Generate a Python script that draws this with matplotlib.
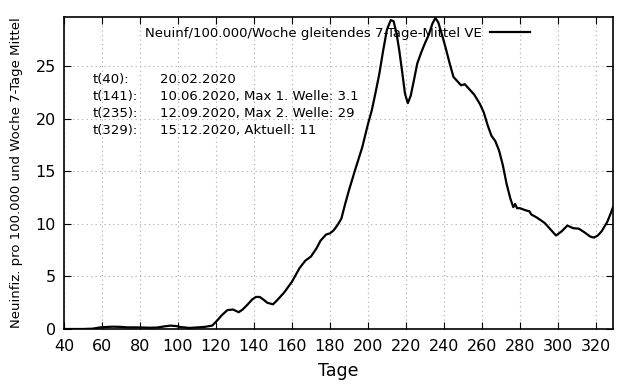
import matplotlib
matplotlib.use('Agg')
import matplotlib.pyplot as plt

# Tag / 7-Tage-Mittel
tage = [40, 50, 55, 59, 63, 66, 70, 73, 80, 85, 89, 93, 96, 99, 101, 106, 110, 114, 118,
        120.6, 123, 126, 129, 132, 134, 136.5, 139, 141, 143, 145, 147, 150, 152, 156, 160,
        164, 167, 170, 173, 175, 178, 180, 182, 184, 186, 188, 190, 193, 197, 200, 202,
        204, 206, 208, 210, 212, 213.5, 215, 216.5, 218, 219.5, 221, 222.5, 224, 226, 228,
        230, 232, 234, 235.5, 237, 239, 241, 243, 245, 247, 249, 251, 253, 256, 259, 261,
        263, 265, 267, 269, 271, 273, 275, 276.5, 277.5, 278.5, 280, 283, 285, 286, 289,
        293, 296, 299, 302, 305, 308, 311, 314, 317, 319, 321, 323, 326, 328, 329]
werte = [0.0, 0.0, 0.03, 0.15, 0.2, 0.22, 0.2, 0.16, 0.15, 0.12, 0.14, 0.25, 0.32, 0.28,
         0.2, 0.1, 0.15, 0.2, 0.32, 0.8, 1.3, 1.8, 1.85, 1.6, 1.85, 2.3, 2.8, 3.05, 3.05,
         2.8, 2.5, 2.35, 2.7, 3.5, 4.5, 5.8, 6.5, 6.9, 7.7, 8.4, 9.0, 9.1, 9.4, 9.9, 10.5,
         11.9, 13.2, 15.0, 17.3, 19.5, 20.8, 22.5, 24.3, 26.5, 28.5, 29.4, 29.3, 28.2,
         26.5, 24.5, 22.4, 21.5, 22.2, 23.5, 25.3, 26.3, 27.2, 28.0, 29.1, 29.6, 29.2, 28.0,
         26.7, 25.3, 24.0, 23.6, 23.2, 23.3, 22.9, 22.3, 21.4, 20.6, 19.4, 18.4, 17.9, 17.0,
         15.6, 13.8, 12.4, 11.6, 11.9, 11.5, 11.5, 11.3, 11.2, 10.9, 10.6, 10.1, 9.5, 8.9,
         9.3, 9.85, 9.6, 9.55, 9.2, 8.8, 8.7, 8.9, 9.3, 10.2, 11.1, 11.6]

x_ticks = list(range(40, 330, 20))
y_ticks = [0, 5, 10, 15, 20, 25]

anno_links = ['t(40):', 't(141):', 't(235):', 't(329):']
anno_rechts = ['20.02.2020', '10.06.2020, Max 1. Welle: 3.1',
               '12.09.2020, Max 2. Welle: 29', '15.12.2020, Aktuell: 11']

fig = plt.figure(figsize=(6.4, 3.84), dpi=100)
ax = fig.add_axes([64 / 640, 1 - 329 / 384, 549 / 640, 312 / 384])

ax.plot(tage, werte, color='black', lw=1.6,
        label='Neuinf/100.000/Woche gleitendes 7-Tage-Mittel VE')

ax.set_xlim(40, 329)
ax.set_ylim(0, 29.7)
ax.set_xticks(x_ticks)
ax.set_yticks(y_ticks)
ax.tick_params(direction='in', top=True, right=True, length=5, labelsize=11.5)
ax.tick_params(axis='x', pad=7)
ax.tick_params(axis='y', pad=6)
ax.grid(True, color='#aaaaaa', linestyle=(0, (1, 3)), linewidth=0.8)
for s in ax.spines.values():
    s.set_linewidth(1.2)

ax.set_xlabel('Tage', fontsize=12.5, labelpad=6)
ax.set_ylabel('Neuinfiz. pro 100.000 und Woche 7-Tage Mittel', fontsize=9.5, labelpad=9)

leg = ax.legend(loc='upper center', bbox_to_anchor=(0.498, 1.006), frameon=False,
                fontsize=9.5, markerfirst=False, handlelength=3.0, handletextpad=0.6)

for i, (a, b) in enumerate(zip(anno_links, anno_rechts)):
    yy = 23.75 - i * 1.63
    ax.text(55, yy, a, fontsize=9.5, va='center')
    ax.text(90.7, yy, b, fontsize=9.5, va='center')

fig.savefig('out.png', dpi=100)
